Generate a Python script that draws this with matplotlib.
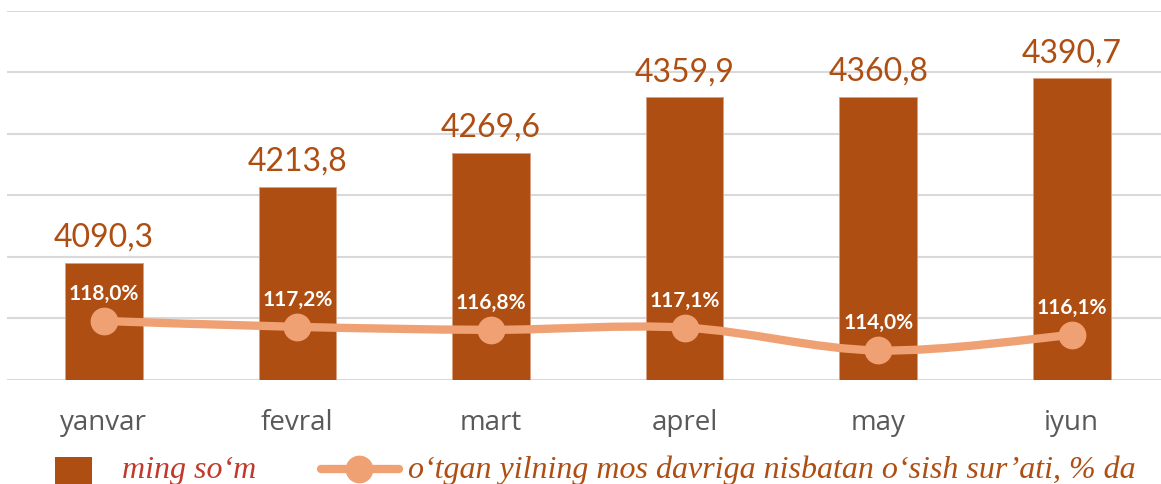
import numpy as np
import matplotlib.pyplot as plt
from matplotlib.path import Path
from matplotlib.patches import PathPatch, Rectangle
from matplotlib.lines import Line2D

# data
months = ["yanvar", "fevral", "mart", "aprel", "may", "iyun"]
wages = [4090.3, 4213.8, 4269.6, 4359.9, 4360.8, 4390.7]
growth = [118.0, 117.2, 116.8, 117.1, 114.0, 116.1]
legend_labels = ["ming so‘m", "o‘tgan yilning mos davriga nisbatan o‘sish sur’ati, % da"]

bar_color = '#AE4E12'
line_color = '#F0A173'

W, H = 1161, 485
fig = plt.figure(figsize=(W/100, H/100), dpi=100)
ax = fig.add_axes([7/W, 104/H, 1154/W, 369/H])
ax2 = ax.twinx()

x = np.arange(len(months))
ax.bar(x, wages, width=0.4, color=bar_color, edgecolor='#D9A080', linewidth=0.6, zorder=2)
ax.set_ylim(3900, 4500)
ax.set_yticks(np.arange(3900, 4501, 100))
ax.set_xlim(-0.5, -0.5 + 1154/193.6)
ax.yaxis.grid(True, color='#D9D9D9', linewidth=1.5, zorder=0)
ax.set_axisbelow(True)
ax.tick_params(axis='y', left=False, labelleft=False)
ax.tick_params(axis='x', length=0, pad=20)
ax.set_xticks(x)
ax.set_xticklabels(months, fontsize=20, color='#595959', family='Open Sans')
for s in ax.spines.values():
    s.set_visible(False)

for xi, v in zip(x, wages):
    ax.text(xi, v + 18, f"{v:.1f}".replace('.', ','), ha='center', va='bottom',
            fontsize=23, color=bar_color, family='Lato')

# smoothed line (Catmull-Rom drawn as bezier path)
pts = np.column_stack([x, growth])
verts = [pts[0]]
codes = [Path.MOVETO]
for i in range(len(pts) - 1):
    p0 = pts[i - 1] if i > 0 else pts[i]
    p1, p2 = pts[i], pts[i + 1]
    p3 = pts[i + 2] if i + 2 < len(pts) else pts[i + 1]
    c1 = p1 + (p2 - p0) / 6
    c2 = p2 - (p3 - p1) / 6
    verts += [c1, c2, p2]
    codes += [Path.CURVE4] * 3
ax2.add_patch(PathPatch(Path(verts, codes), facecolor='none', edgecolor=line_color,
                        linewidth=6, capstyle='round', zorder=3))
ax2.plot(x, growth, 'o', color=line_color, markersize=19, zorder=4)
ax2.set_ylim(110, 160)
ax2.axis('off')
for xi, g in zip(x, growth):
    ax2.annotate(f"{g:.1f}%".replace('.', ','), (xi, g), xytext=(0, 13),
                 textcoords='offset points', ha='center', va='bottom',
                 fontsize=15, fontweight='bold', color='white', family='Lato', zorder=5)

# legend drawn by hand at the bottom
fig.patches.append(Rectangle((55/W, 0), 37/W, 27/H, transform=fig.transFigure,
                             facecolor=bar_color, edgecolor='none'))
fig.lines.append(Line2D([321/W, 399/W], [15/H, 15/H], transform=fig.transFigure,
                        color=line_color, linewidth=6, solid_capstyle='round'))
fig.lines.append(Line2D([359/W], [15/H], transform=fig.transFigure, color=line_color,
                        marker='o', markersize=19))
lfont = dict(family='Liberation Serif', style='italic', size=23, va='baseline')
fig.text(122/W, 7/H, legend_labels[0], color='#C0392B', **lfont)
fig.text(408/W, 7/H, legend_labels[1], color=bar_color, **lfont)

fig.savefig('out.png', dpi=100)
